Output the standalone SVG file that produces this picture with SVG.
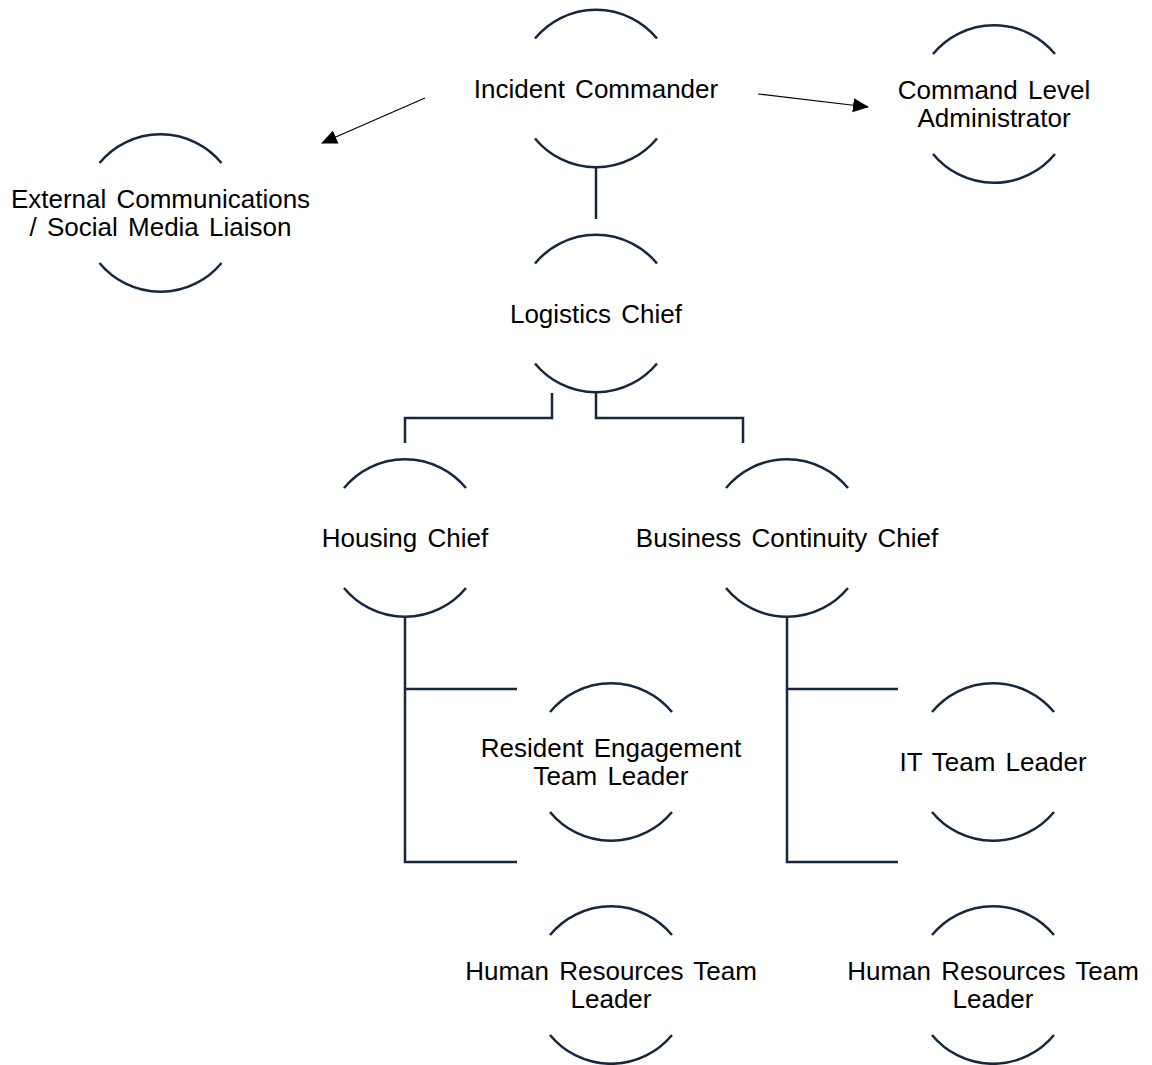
<svg xmlns="http://www.w3.org/2000/svg" width="1152" height="1065" viewBox="0 0 1152 1065">
<style>
.arc{fill:none;stroke:#15283e;stroke-width:2.5;stroke-linecap:butt}
.conn{fill:none;stroke:#15283e;stroke-width:2.5}
.arrow{fill:none;stroke:#000;stroke-width:1.2}
.t{font-family:"Liberation Sans",Arial,sans-serif;font-size:26px;fill:#000;text-anchor:middle;word-spacing:3px}
</style>
<defs>
<marker id="ah" markerUnits="userSpaceOnUse" markerWidth="16" markerHeight="16" viewBox="0 0 16 16" refX="15" refY="8" orient="auto">
<path d="M0,1 L16,8 L0,15 Z" fill="#000"/>
</marker>
<path id="arcs" d="M-61,-50 A79,79 0 0 1 61,-50 M-61,50 A79,79 0 0 0 61,50"/>
</defs>
<rect width="1152" height="1065" fill="#fff"/>
<g id="connectors">
<line class="conn" x1="596" y1="167" x2="596" y2="219"/>
<polyline class="conn" points="552,393 552,418 405,418 405,443"/>
<polyline class="conn" points="596,393 596,418 743,418 743,443"/>
<polyline class="conn" points="517,689 405,689 405,617 405,862 517,862"/>
<polyline class="conn" points="898,689 787,689 787,617 787,862 898,862"/>
<line class="arrow" x1="425" y1="98" x2="322" y2="143" marker-end="url(#ah)"/>
<line class="arrow" x1="758" y1="94" x2="868" y2="107" marker-end="url(#ah)"/>
</g>
<g id="incident-commander">
<use href="#arcs" class="arc" x="596" y="88.5"/>
<text class="t" x="596" y="98">Incident Commander</text>
</g>
<g id="command-level-administrator">
<use href="#arcs" class="arc" x="994" y="104"/>
<text class="t" x="994" y="99">Command Level</text>
<text class="t" x="994" y="127">Administrator</text>
</g>
<g id="external-communications">
<use href="#arcs" class="arc" x="160.5" y="213"/>
<text class="t" x="160.5" y="208">External Communications</text>
<text class="t" x="160.5" y="236">/ Social Media Liaison</text>
</g>
<g id="logistics-chief">
<use href="#arcs" class="arc" x="596" y="313.5"/>
<text class="t" x="596" y="323">Logistics Chief</text>
</g>
<g id="housing-chief">
<use href="#arcs" class="arc" x="405" y="538"/>
<text class="t" x="405" y="547">Housing Chief</text>
</g>
<g id="business-continuity-chief">
<use href="#arcs" class="arc" x="787" y="538"/>
<text class="t" x="787" y="547">Business Continuity Chief</text>
</g>
<g id="resident-engagement-team-leader">
<use href="#arcs" class="arc" x="611" y="762"/>
<text class="t" x="611" y="757">Resident Engagement</text>
<text class="t" x="611" y="785">Team Leader</text>
</g>
<g id="it-team-leader">
<use href="#arcs" class="arc" x="993" y="762"/>
<text class="t" x="993" y="771">IT Team Leader</text>
</g>
<g id="hr-team-leader-1">
<use href="#arcs" class="arc" x="611" y="985"/>
<text class="t" x="611" y="980">Human Resources Team</text>
<text class="t" x="611" y="1008">Leader</text>
</g>
<g id="hr-team-leader-2">
<use href="#arcs" class="arc" x="993" y="985"/>
<text class="t" x="993" y="980">Human Resources Team</text>
<text class="t" x="993" y="1008">Leader</text>
</g>
</svg>
